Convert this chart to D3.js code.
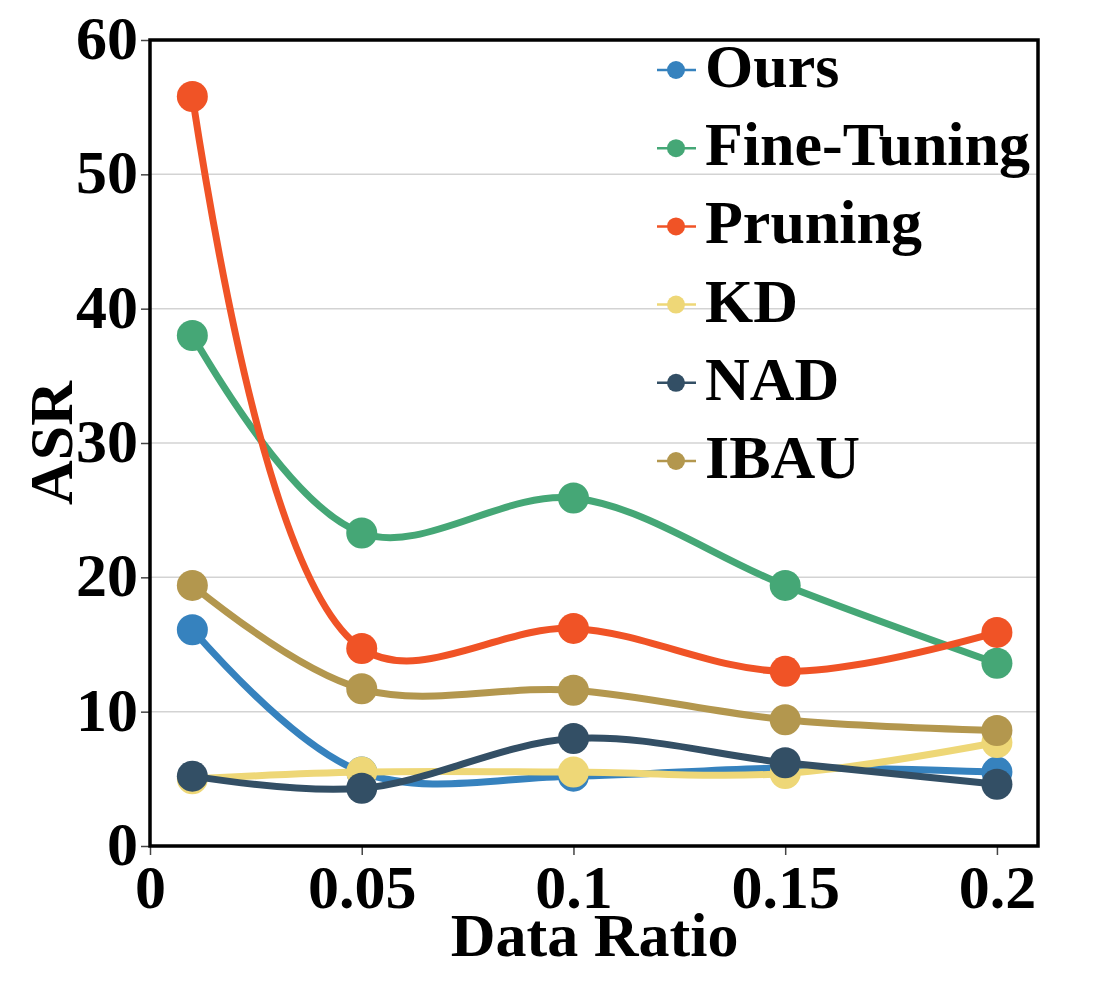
<!DOCTYPE html>
<html>
<head>
<meta charset="utf-8">
<script src="https://cdn.jsdelivr.net/npm/d3@7"></script>
<style>
  body { margin: 0; background: #fff; }
  text { font-family: "Liberation Serif", "Times New Roman", serif; font-weight: bold; fill: #000; }
</style>
</head>
<body>
<div id="chart"></div>
<script>
const ratios = [0.01, 0.05, 0.1, 0.15, 0.2];
const seriesNames = ["Ours", "Fine-Tuning", "Pruning", "KD", "NAD", "IBAU"];
const ours = [16.1, 5.5, 5.2, 5.8, 5.5];
const fineTuning = [38.0, 23.3, 25.9, 19.4, 13.6];
const pruning = [55.8, 14.7, 16.2, 13.0, 15.9];
const kd = [5.0, 5.5, 5.5, 5.4, 7.7];
const nad = [5.2, 4.3, 8.0, 6.2, 4.6];
const ibau = [19.4, 11.7, 11.6, 9.4, 8.6];
const colors = ["#3682be", "#45a776", "#f05326", "#eed777", "#334f65", "#b3974e"];
const xTicks = [0, 0.05, 0.1, 0.15, 0.2];
const yTicks = [0, 10, 20, 30, 40, 50, 60];

const allSeries = [ours, fineTuning, pruning, kd, nad, ibau];

const W = 1093, H = 984;
const margin = {top: 40, right: 55, bottom: 138, left: 150};
const width = W - margin.left - margin.right;
const height = H - margin.top - margin.bottom;

const svg = d3.select("#chart").append("svg")
  .attr("width", W)
  .attr("height", H);

const g = svg.append("g")
  .attr("transform", `translate(${margin.left},${margin.top})`);

const x = d3.scaleLinear().domain([0, 0.2097]).range([0, width]);
const y = d3.scaleLinear().domain([0, 60]).range([height, 0]);

// grid
g.selectAll(".grid")
  .data(yTicks.filter(d => d > 0))
  .enter().append("line")
  .attr("x1", 0).attr("x2", width)
  .attr("y1", d => y(d)).attr("y2", d => y(d))
  .attr("stroke", "#d3d3d3")
  .attr("stroke-width", 1.5);

// axes
const yAxis = g.append("g")
  .call(d3.axisLeft(y).tickValues(yTicks).tickSize(9).tickPadding(3));
const xAxis = g.append("g")
  .attr("transform", `translate(0,${height})`)
  .call(d3.axisBottom(x).tickValues(xTicks).tickSize(9).tickPadding(6)
    .tickFormat(d => d === 0 ? "0" : String(d)));

[xAxis, yAxis].forEach(a => {
  a.select(".domain").remove();
  a.selectAll(".tick line").attr("stroke", "#444").attr("stroke-width", 1.5);
  a.selectAll(".tick text").style("font-size", "62px").attr("fill", "#000");
});
yAxis.selectAll(".tick text").attr("dy", "0.3em");
xAxis.selectAll(".tick text").attr("dy", "0.76em");

// frame
g.append("rect")
  .attr("width", width).attr("height", height)
  .attr("fill", "none")
  .attr("stroke", "#000")
  .attr("stroke-width", 3.5);

// smoothed line, same scheme as a centripetal spline with quadratic ends
function tangent(p0, p1, p2, s) {
  const d1x = p0[0] - p1[0], d1y = p0[1] - p1[1];
  const d2x = p2[0] - p1[0], d2y = p2[1] - p1[1];
  const d1a = Math.pow(d1x * d1x + d1y * d1y, 0.25);
  const d2a = Math.pow(d2x * d2x + d2y * d2y, 0.25);
  const nx = (d2a * d2a * d1x - d1a * d1a * d2x) * s;
  const ny = (d2a * d2a * d1y - d1a * d1a * d2y) * s;
  const den1 = 3 * d2a * (d1a + d2a), den2 = 3 * d1a * (d1a + d2a);
  return [[p1[0] + nx / den1, p1[1] + ny / den1],
          [p1[0] - nx / den2, p1[1] - ny / den2]];
}

function smoothPath(vals, s) {
  const pts = vals.map((v, i) => [x(ratios[i]), y(v)]);
  const n = pts.length;
  const t = [];
  for (let i = 1; i < n - 1; i++) t.push(tangent(pts[i - 1], pts[i], pts[i + 1], s));
  const p = d3.path();
  p.moveTo(pts[0][0], pts[0][1]);
  p.quadraticCurveTo(t[0][0][0], t[0][0][1], pts[1][0], pts[1][1]);
  for (let i = 2; i < n - 1; i++) {
    p.bezierCurveTo(t[i - 2][1][0], t[i - 2][1][1], t[i - 1][0][0], t[i - 1][0][1], pts[i][0], pts[i][1]);
  }
  p.quadraticCurveTo(t[n - 3][1][0], t[n - 3][1][1], pts[n - 1][0], pts[n - 1][1]);
  return p.toString();
}

allSeries.forEach((vals, k) => {
  const sg = g.append("g");
  sg.append("path")
    .attr("d", smoothPath(vals, 1))
    .attr("fill", "none")
    .attr("stroke", colors[k])
    .attr("stroke-width", 7);
  sg.selectAll("circle")
    .data(vals)
    .enter().append("circle")
    .attr("cx", (d, i) => x(ratios[i]))
    .attr("cy", d => y(d))
    .attr("r", 15.5)
    .attr("fill", colors[k]);
});

// axis titles
svg.append("text")
  .attr("x", margin.left + x(0.105))
  .attr("y", 956)
  .attr("text-anchor", "middle")
  .style("font-size", "62px")
  .text("Data Ratio");

svg.append("text")
  .attr("transform", `translate(72,${margin.top + height / 2}) rotate(-90)`)
  .attr("text-anchor", "middle")
  .style("font-size", "62px")
  .text("ASR");

// legend
const legend = svg.append("g").attr("transform", "translate(676,70)");
seriesNames.forEach((name, k) => {
  const row = legend.append("g").attr("transform", `translate(0,${k * 78.2})`);
  row.append("line")
    .attr("x1", -19).attr("x2", 20)
    .attr("stroke", colors[k]).attr("stroke-width", 2.5);
  row.append("circle").attr("r", 9).attr("fill", colors[k]);
  row.append("text")
    .attr("x", 29).attr("y", 17)
    .style("font-size", "62px")
    .text(name);
});
</script>
</body>
</html>
